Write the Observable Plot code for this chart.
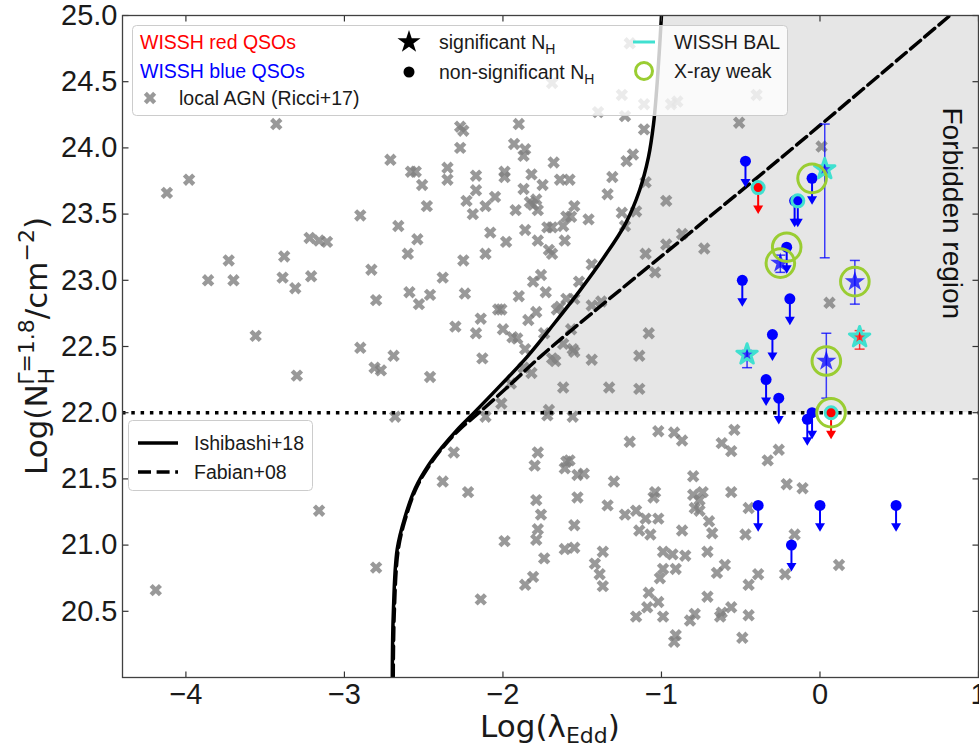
<!DOCTYPE html>
<html>
<head>
<meta charset="utf-8">
<script src="https://cdn.jsdelivr.net/npm/d3@7"></script>
<script src="https://cdn.jsdelivr.net/npm/@observablehq/plot@0.6"></script>
<style>
  html, body { margin: 0; padding: 0; background: #fff; }
  #chart svg { display: block; }
</style>
</head>
<body>
<div id="chart"></div>
<script>
// ---------------- DATA ----------------
const xDomain = [-4.4, 1.0];
const yDomain = [20.0, 25.0];
const xTicks = [-4, -3, -2, -1, 0, 1];
const yTicks = [20.5, 21.0, 21.5, 22.0, 22.5, 23.0, 23.5, 24.0, 24.5, 25.0];
const nhLimit = 22.0;

// local AGN (Ricci+17)
const agnX = [
  -3.43,-2.71,-2.58,-4.12,-3.98,-2.90,-2.66,-3.22,-3.16,-3.11,
  -3.38,-3.73,-2.60,-2.83,-3.86,-3.70,-3.39,-3.21,-3.31,-2.80,
  -2.59,-3.56,-2.90,-2.81,-2.77,-2.69,-3.30,-2.68,
  -2.11,-1.72,-2.31,-1.78,-1.80,-1.60,-1.61,-2.38,-2.22,-3.16,
  -1.79,-1.76,-1.78,-1.79,-1.99,-1.61,-1.74,-2.80,-1.81,-1.86,
  -2.14,-4.19,
  -1.56,-1.02,-0.92,-0.87,-1.20,-0.54,-0.62,-0.56,-0.26,-0.33,
  -1.58,-1.53,-1.49,-0.80,-1.30,-0.21,-0.11,-0.56,-1.04,-1.05,
  -0.80,-0.74,-0.76,-1.53,-1.34,-1.16,-1.23,-0.79,-0.76,-1.10,
  -1.02,-0.70,-0.45,-1.55,-1.14,-1.07,-0.87,-0.68,-0.47,-0.16,
  -1.55,-1.37,-0.99,-0.93,-0.85,-0.71,-1.42,-1.39,-1.37,-0.99,
  -0.91,-1.01,-0.60,-0.65,-0.39,-0.22,-0.45,0.12,-1.08,-0.71,
  -1.09,-1.02,-1.16,-0.99,-0.79,-0.82,-0.62,-0.63,-0.56,-0.45,
  -0.91,-0.92,-0.49,
  -1.25,-1.11,-0.90,-0.94,-1.40,-1.23,-2.27,-2.25,-1.90,-1.11,
  -2.27,-1.93,-1.86,-1.87,-1.68,-1.18,-1.22,-2.55,-2.35,-2.35,
  -2.51,-2.17,-1.99,-1.99,-1.82,-1.64,-1.58,-1.75,-1.31,-1.10,
  -2.17,-1.87,-2.05,-2.23,-2.11,-1.83,-1.79,-1.81,-1.78,-1.92,
  -2.48,-2.19,-1.55,-1.57,-1.60,-1.46,-1.34,-1.25,-1.16,-0.97,
  -1.23,-1.86,-1.72,-1.69,-1.62,-2.08,-2.54,-1.98,-1.78,-1.61,
  -1.71,-1.69,-2.11,-2.25,-1.44,-1.10,-0.97,-0.87,-2.38,-1.76,
  -1.81,-1.73,-1.52,-1.04,-2.46,-2.53,-2.24,-1.90,-1.60,-1.55,
  -1.44,-1.38,-2.03,-2.01,-1.79,-1.66,-1.64,-2.14,-1.84,-2.30,
  -2.17,-2.00,-1.94,-1.91,-1.74,-1.57,-1.08,-1.86,-1.62,-1.56,
  -1.55,-1.69,-1.67,-1.44,-1.14,-2.13,-1.87,-1.82,-1.95,-2.46,
  -1.62,-1.33,-1.14,-2.01,-1.71,
  -0.51,-0.40,0.01,-0.73,0.06,-1.69,-1.20
];
const agnY = [
  24.18,23.91,23.82,23.66,23.76,23.49,23.41,23.32,23.30,23.29,
  23.18,23.15,23.20,23.08,23.00,23.00,23.02,23.03,22.94,22.85,
  22.91,22.58,22.49,22.34,22.32,22.43,22.28,21.97,
  21.97,21.98,21.70,21.70,21.60,21.63,21.58,21.48,21.40,21.26,
  21.34,21.23,21.12,21.04,21.03,20.97,20.90,20.83,20.76,20.70,
  20.59,20.66,
  21.97,21.86,21.85,21.79,21.78,21.87,21.77,21.71,21.72,21.64,
  21.64,21.53,21.54,21.52,21.48,21.46,21.43,21.40,21.40,21.36,
  21.38,21.40,21.34,21.36,21.30,21.26,21.23,21.28,21.26,21.20,
  21.20,21.18,21.28,21.15,21.11,21.08,21.11,21.09,21.08,21.08,
  20.98,20.95,20.95,20.93,20.92,20.95,20.86,20.78,20.69,20.82,
  20.82,20.75,20.85,20.79,20.78,20.78,20.70,20.85,20.64,20.61,
  20.53,20.57,20.46,20.46,20.48,20.43,20.49,20.46,20.53,20.47,
  20.32,20.27,20.30,
  24.40,24.33,24.35,24.33,24.27,24.24,24.16,24.13,24.18,24.14,
  24.00,24.03,23.99,23.94,23.89,23.95,23.90,23.82,23.85,23.76,
  23.72,23.79,23.82,23.78,23.80,23.76,23.76,23.72,23.78,23.74,
  23.68,23.69,23.63,23.60,23.56,23.59,23.61,23.57,23.53,23.53,
  23.56,23.50,23.56,23.48,23.48,23.46,23.65,23.51,23.52,23.60,
  23.41,23.38,23.40,23.40,23.41,23.36,23.31,23.29,23.30,23.30,
  23.23,23.20,23.20,23.15,23.12,23.20,23.27,23.35,23.02,23.04,
  22.99,22.91,22.99,23.06,22.89,22.82,22.90,22.88,22.86,22.86,
  22.81,22.84,22.78,22.78,22.76,22.78,22.80,22.71,22.70,22.65,
  22.60,22.63,22.57,22.56,22.60,22.63,22.60,22.48,22.52,22.48,
  22.46,22.41,22.39,22.40,22.43,22.41,22.34,22.30,22.22,22.27,
  22.19,22.19,22.18,22.07,22.02,
  24.19,24.40,24.01,23.24,22.83,24.49,24.79
];

// Ishibashi+18 and Fabian+08 limits
const ishiX = [-2.698,-2.692,-2.667,-2.616,-2.553,-2.472,-2.390,-2.289,-2.182,-2.013,-1.849,-1.679,-1.516,-1.365,-1.226,-1.138,-1.082,-1.050,-1.031,-1.013,-1.000];
const ishiY = [20.00,20.47,20.97,21.22,21.43,21.60,21.73,21.87,22.00,22.21,22.42,22.67,22.92,23.17,23.43,23.68,23.93,24.18,24.43,24.74,25.00];
const fabX = [-2.692,-2.686,-2.660,-2.610,-2.547,-2.465,-2.384,-2.277,-2.151,-1.956,-1.767,-1.44,-0.89,-0.14,0.82];
const fabY = [20.00,20.47,20.97,21.22,21.43,21.60,21.73,21.87,22.00,22.21,22.42,22.75,23.29,24.03,25.00];

// WISSH non-significant NH (upper limits)
const ulX = [-0.47,-0.05,-0.16,-0.14,-0.21,-0.49,-0.19,-0.30,-0.34,-0.26,-0.08,-0.05,-0.39,0.00,-0.18,0.48,-0.39,0.07];
const ulY = [23.90,23.77,23.60,23.60,23.25,23.00,22.86,22.59,22.25,22.11,21.95,22.00,21.30,21.30,21.00,21.30,23.70,22.00];
const ulSample = ["blue","blue","blue","blue","blue","blue","blue","blue","blue","blue","blue","blue","blue","blue","blue","blue","red","red"];
const ulBAL  = [0,0,0,1,0,0,0,0,0,0,0,0,0,0,0,0,1,1];
const ulWeak = [0,1,0,0,1,0,0,0,0,0,0,0,0,0,0,0,0,1];
const ulArrow = 0.2;

// WISSH significant NH (detections)
const detX  = [0.03,-0.25,0.22,-0.46,0.04,0.25];
const detY  = [23.84,23.13,22.99,22.44,22.39,22.57];
const detLo = [23.17,23.06,22.82,22.34,22.11,22.48];
const detHi = [24.18,23.19,23.15,22.47,22.60,22.62];
const detSample = ["blue","blue","blue","blue","blue","red"];
const detBAL  = [1,0,0,1,0,1];
const detWeak = [0,1,1,0,1,0];

const legendTop = ["WISSH red QSOs","WISSH blue QSOs","local AGN (Ricci+17)","significant N","non-significant N","WISSH BAL","X-ray weak"];
const legendBottom = ["Ishibashi+18","Fabian+08"];
const regionLabel = "Forbidden region";

// ---------------- STYLE / SYMBOLS ----------------
const FONT = "'Liberation Sans', Arial, Helvetica, sans-serif";
const MATHFONT = "'DejaVu Sans', 'Liberation Sans', sans-serif";
const sampleColor = {red: "#ff0000", blue: "#0000ff"};
const BAL_COLOR = "#40e0d0";
const WEAK_COLOR = "#9acd32";
const AGN_COLOR = "#808080";

const xMarker = {
  draw(ctx, size) {
    const a = Math.sqrt(size / Math.PI), t = a * 0.33, c = Math.SQRT1_2;
    const pts = [[-t,-a],[t,-a],[t,-t],[a,-t],[a,t],[t,t],[t,a],[-t,a],[-t,t],[-a,t],[-a,-t],[-t,-t]];
    pts.forEach(([x, y], i) => {
      const X = (x - y) * c, Y = (x + y) * c;
      i ? ctx.lineTo(X, Y) : ctx.moveTo(X, Y);
    });
    ctx.closePath();
  }
};
const caretDown = {
  draw(ctx, size) {
    const r = Math.sqrt(size / Math.PI);
    ctx.moveTo(0, 0); ctx.lineTo(-r, -1.7 * r); ctx.lineTo(r, -1.7 * r); ctx.closePath();
  }
};
const capSym = {
  draw(ctx, size) { const r = Math.sqrt(size / Math.PI); ctx.moveTo(-r, 0); ctx.lineTo(r, 0); }
};
const tickSym = (dx, dy) => ({ draw(ctx) { ctx.moveTo(0, 0); ctx.lineTo(dx, dy); } });

// ---------------- TABLES ----------------
const agn = agnX.map((x, i) => ({x, y: agnY[i]}));
const ishi = ishiX.map((x, i) => ({x, y: ishiY[i]}));
const fab = fabX.map((x, i) => ({x, y: fabY[i]}));
const shade = [];
for (let i = 1; i < ishi.length; i++) {
  const a = ishi[i - 1], b = ishi[i];
  if (a.y < nhLimit && b.y >= nhLimit) {
    const t = (nhLimit - a.y) / (b.y - a.y);
    shade.push({x: a.x + t * (b.x - a.x), y: nhLimit});
  }
}
ishi.forEach(d => { if (d.y > nhLimit) shade.push(d); });

const ul = ulX.map((x, i) => ({x, y: ulY[i], color: sampleColor[ulSample[i]], bal: !!ulBAL[i], weak: !!ulWeak[i]}));
const det = detX.map((x, i) => ({x, y: detY[i], lo: detLo[i], hi: detHi[i], color: sampleColor[detSample[i]], bal: !!detBAL[i], weak: !!detWeak[i]}));
const weak = [...ul.filter(d => d.weak), ...det.filter(d => d.weak)];

// ---------------- PLOT ----------------
const plot = Plot.plot({
  width: 979,
  height: 753,
  marginLeft: 122,
  marginRight: 1,
  marginTop: 15,
  marginBottom: 76,
  x: {domain: xDomain, axis: null},
  y: {domain: yDomain, axis: null},
  color: {type: "identity"},
  style: {fontFamily: FONT, background: "white", color: "#1a1a1a", overflow: "visible"},
  marks: [
    Plot.areaX(shade, {y: "y", x1: "x", x2: xDomain[1], fill: "#e6e6e6", curve: "catmull-rom"}),
    Plot.dot(agn, {x: "x", y: "y", symbol: xMarker, r: 6.6, fill: AGN_COLOR, fillOpacity: 0.8, stroke: "none"}),
    Plot.line(ishi, {x: "x", y: "y", stroke: "black", strokeWidth: 3.5, curve: "catmull-rom", clip: true}),
    Plot.line(fab, {x: "x", y: "y", stroke: "black", strokeWidth: 3.5, strokeDasharray: "13,5.6", curve: "catmull-rom", clip: true}),
    Plot.ruleY([nhLimit], {stroke: "black", strokeWidth: 3.5, strokeDasharray: "3.5,5.8"}),
    // upper limits
    Plot.link(ul, {x1: "x", x2: "x", y1: "y", y2: d => d.y - ulArrow * 0.8, stroke: "color", strokeWidth: 2}),
    Plot.dot(ul, {x: "x", y: d => d.y - ulArrow, symbol: caretDown, r: 5, fill: "color", stroke: "none"}),
    Plot.dot(ul, {filter: d => !d.bal, x: "x", y: "y", r: 5.5, fill: "color", stroke: "none"}),
    Plot.dot(ul, {filter: d => d.bal, x: "x", y: "y", r: 6, fill: "color", stroke: BAL_COLOR, strokeWidth: 3}),
    // detections
    Plot.link(det, {x1: "x", x2: "x", y1: "lo", y2: "hi", stroke: "color", strokeWidth: 1.5, strokeOpacity: 0.75}),
    Plot.dot(det, {x: "x", y: "lo", symbol: capSym, r: 5, fill: "none", stroke: "color", strokeWidth: 1.5, strokeOpacity: 0.75}),
    Plot.dot(det, {x: "x", y: "hi", symbol: capSym, r: 5, fill: "none", stroke: "color", strokeWidth: 1.5, strokeOpacity: 0.75}),
    Plot.dot(det, {filter: d => d.bal, x: "x", y: "y", symbol: "star", r: 6.4, fill: "color", fillOpacity: 0.75, stroke: BAL_COLOR, strokeWidth: 3, strokeLinejoin: "round"}),
    Plot.dot(det, {filter: d => !d.bal, x: "x", y: "y", symbol: "star", r: 6.4, fill: "color", fillOpacity: 0.75, stroke: "none"}),
    // X-ray weak rings
    Plot.dot(weak, {x: "x", y: "y", r: 14.3, fill: "none", stroke: WEAK_COLOR, strokeWidth: 3}),
    // forbidden region label
    Plot.text([regionLabel], {text: d => d, frameAnchor: "top-right", rotate: 90, textAnchor: "start", lineAnchor: "middle", dx: -27, dy: 92, fontSize: 28, fill: "#111"}),
    // ticks (inward, all four sides)
    Plot.dot(xTicks, {x: d => d, y: yDomain[0], symbol: tickSym(0, -6), fill: "none", stroke: "#333", strokeWidth: 1.2}),
    Plot.dot(xTicks, {x: d => d, y: yDomain[1], symbol: tickSym(0, 6), fill: "none", stroke: "#333", strokeWidth: 1.2}),
    Plot.dot(yTicks, {y: d => d, x: xDomain[0], symbol: tickSym(6, 0), fill: "none", stroke: "#333", strokeWidth: 1.2}),
    Plot.dot(yTicks, {y: d => d, x: xDomain[1], symbol: tickSym(-6, 0), fill: "none", stroke: "#333", strokeWidth: 1.2}),
    Plot.axisX({ticks: xTicks, anchor: "bottom", tickSize: 0, tickPadding: 6, fontSize: 29, tickFormat: d3.format("d"), label: null}),
    Plot.axisY({ticks: yTicks, anchor: "left", tickSize: 0, tickPadding: 5, fontSize: 29, tickFormat: d3.format(".1f"), label: null}),
    Plot.frame({stroke: "#404040", strokeWidth: 1.3})
  ]
});

document.getElementById("chart").appendChild(plot);

// ---------------- LEGENDS & AXIS TITLES ----------------
const svg = d3.select(plot);
const ink = "#1a1a1a";

// top legend
const lg = svg.append("g").attr("font-family", FONT).attr("font-size", 19.5).attr("text-anchor", "start");
lg.append("rect").attr("x", 132.5).attr("y", 25.5).attr("width", 655).attr("height", 90).attr("rx", 4)
  .attr("fill", "white").attr("fill-opacity", 0.8).attr("stroke", "#cccccc");
function ltext(x, y, txt, color, sub) {
  const t = lg.append("text").attr("x", x).attr("y", y).attr("dy", "0.36em").attr("fill", color).text(txt);
  if (sub) t.append("tspan").attr("font-size", 14).attr("dy", 5).text(sub);
}
ltext(140, 42, legendTop[0], sampleColor.red);
ltext(140, 70.5, legendTop[1], sampleColor.blue);
lg.append("path").attr("transform", "translate(150,98)").attr("d", d3.symbol(xMarker, Math.PI * 6.6 * 6.6)())
  .attr("fill", AGN_COLOR).attr("fill-opacity", 0.8);
ltext(179, 98, legendTop[2], ink);
lg.append("path").attr("transform", "translate(409,42)").attr("d", d3.symbol(d3.symbolStar, 165)()).attr("fill", "black");
ltext(439, 42, legendTop[3], ink, "H");
lg.append("circle").attr("cx", 409).attr("cy", 72).attr("r", 5.5).attr("fill", "black");
ltext(439, 72, legendTop[4], ink, "H");
lg.append("line").attr("x1", 633).attr("x2", 655).attr("y1", 42).attr("y2", 42).attr("stroke", BAL_COLOR).attr("stroke-width", 3);
ltext(674, 42, legendTop[5], ink);
lg.append("circle").attr("cx", 644).attr("cy", 71).attr("r", 8.5).attr("fill", "none").attr("stroke", WEAK_COLOR).attr("stroke-width", 3);
ltext(674, 71, legendTop[6], ink);

// bottom-left legend
const lg2 = svg.append("g").attr("font-family", FONT).attr("font-size", 19.5).attr("text-anchor", "start");
lg2.append("rect").attr("x", 128.5).attr("y", 420.5).attr("width", 184).attr("height", 70).attr("rx", 4)
  .attr("fill", "white").attr("fill-opacity", 0.8).attr("stroke", "#cccccc");
lg2.append("line").attr("x1", 138).attr("x2", 178).attr("y1", 443).attr("y2", 443).attr("stroke", "black").attr("stroke-width", 3.5);
lg2.append("line").attr("x1", 138).attr("x2", 178).attr("y1", 472).attr("y2", 472).attr("stroke", "black").attr("stroke-width", 3.5).attr("stroke-dasharray", "13,5.6");
lg2.append("text").attr("x", 194).attr("y", 443).attr("dy", "0.36em").attr("fill", ink).text(legendBottom[0]);
lg2.append("text").attr("x", 194).attr("y", 472).attr("dy", "0.36em").attr("fill", ink).text(legendBottom[1]);

// x title
const xt = svg.append("text").attr("x", 550).attr("y", 737).attr("text-anchor", "middle")
  .attr("font-family", MATHFONT).attr("font-size", 31).attr("fill", ink);
xt.append("tspan").text("Log(λ");
xt.append("tspan").attr("font-size", 22).attr("dy", 6).text("Edd");
xt.append("tspan").attr("dy", -6).text(")");

// y title
const yt = svg.append("text").attr("transform", "translate(47,346) rotate(-90)").attr("text-anchor", "middle")
  .attr("font-family", MATHFONT).attr("font-size", 31).attr("fill", ink);
yt.append("tspan").text("Log(N");
yt.append("tspan").attr("font-size", 22).attr("dy", 7).text("H");
yt.append("tspan").attr("font-size", 22).attr("dx", -17).attr("dy", -20).text("Γ=1.8");
yt.append("tspan").attr("dy", 13).text("/cm");
yt.append("tspan").attr("font-size", 22).attr("dy", -13).text("−2");
yt.append("tspan").attr("dy", 13).text(")");
</script>
</body>
</html>
